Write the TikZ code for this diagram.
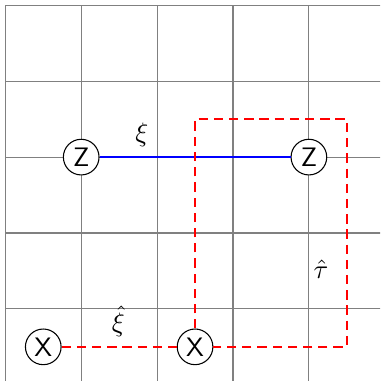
\documentclass[tikz,border=0pt]{standalone}
\usetikzlibrary{positioning,calc}

\begin{document}
\begin{tikzpicture}[
  qubit/.style={circle, draw=black, fill=white, line width=0.4pt, minimum size=0.47cm, inner sep=0pt, font=\sffamily},
  zline/.style={blue, line width=1pt},
  xline/.style={red, line width=0.9pt, dash pattern=on 3.5pt off 2.2pt},
  lbl/.style={inner sep=0pt}
]

% ---------- frame and lattice ----------
\clip (-0.07,0.05) rectangle (4.94,5.07);
\draw[gray, line width=0.4pt, step=1] (0,-1) grid (6,5);

% ---------- corner points of the dashed loop ----------
\coordinate (tl) at (2.5,3.5);
\coordinate (br) at (4.5,0.5);

% ---------- qubits ----------
\node[qubit] (zl) at (1,3)     {Z};
\node[qubit] (zr) at (4,3)     {Z};
\node[qubit] (xl) at (0.5,0.5) {X};
\node[qubit] (xr) at (2.5,0.5) {X};

% ---------- strings ----------
\draw[zline] (zl) -- (zr);
\draw[xline] (xl) -- (xr);
\draw[xline] (xr) -- (tl) -| (br) -- (xr);

% ---------- labels ----------
\node[lbl] (xi)     at (1.8,3.3)   {$\xi$};
\node[lbl] (xihat)  at (1.49,0.83) {$\hat{\xi}$};
\node[lbl] (tauhat) at (4.16,1.52) {$\hat{\tau}$};

\end{tikzpicture}
\end{document}
